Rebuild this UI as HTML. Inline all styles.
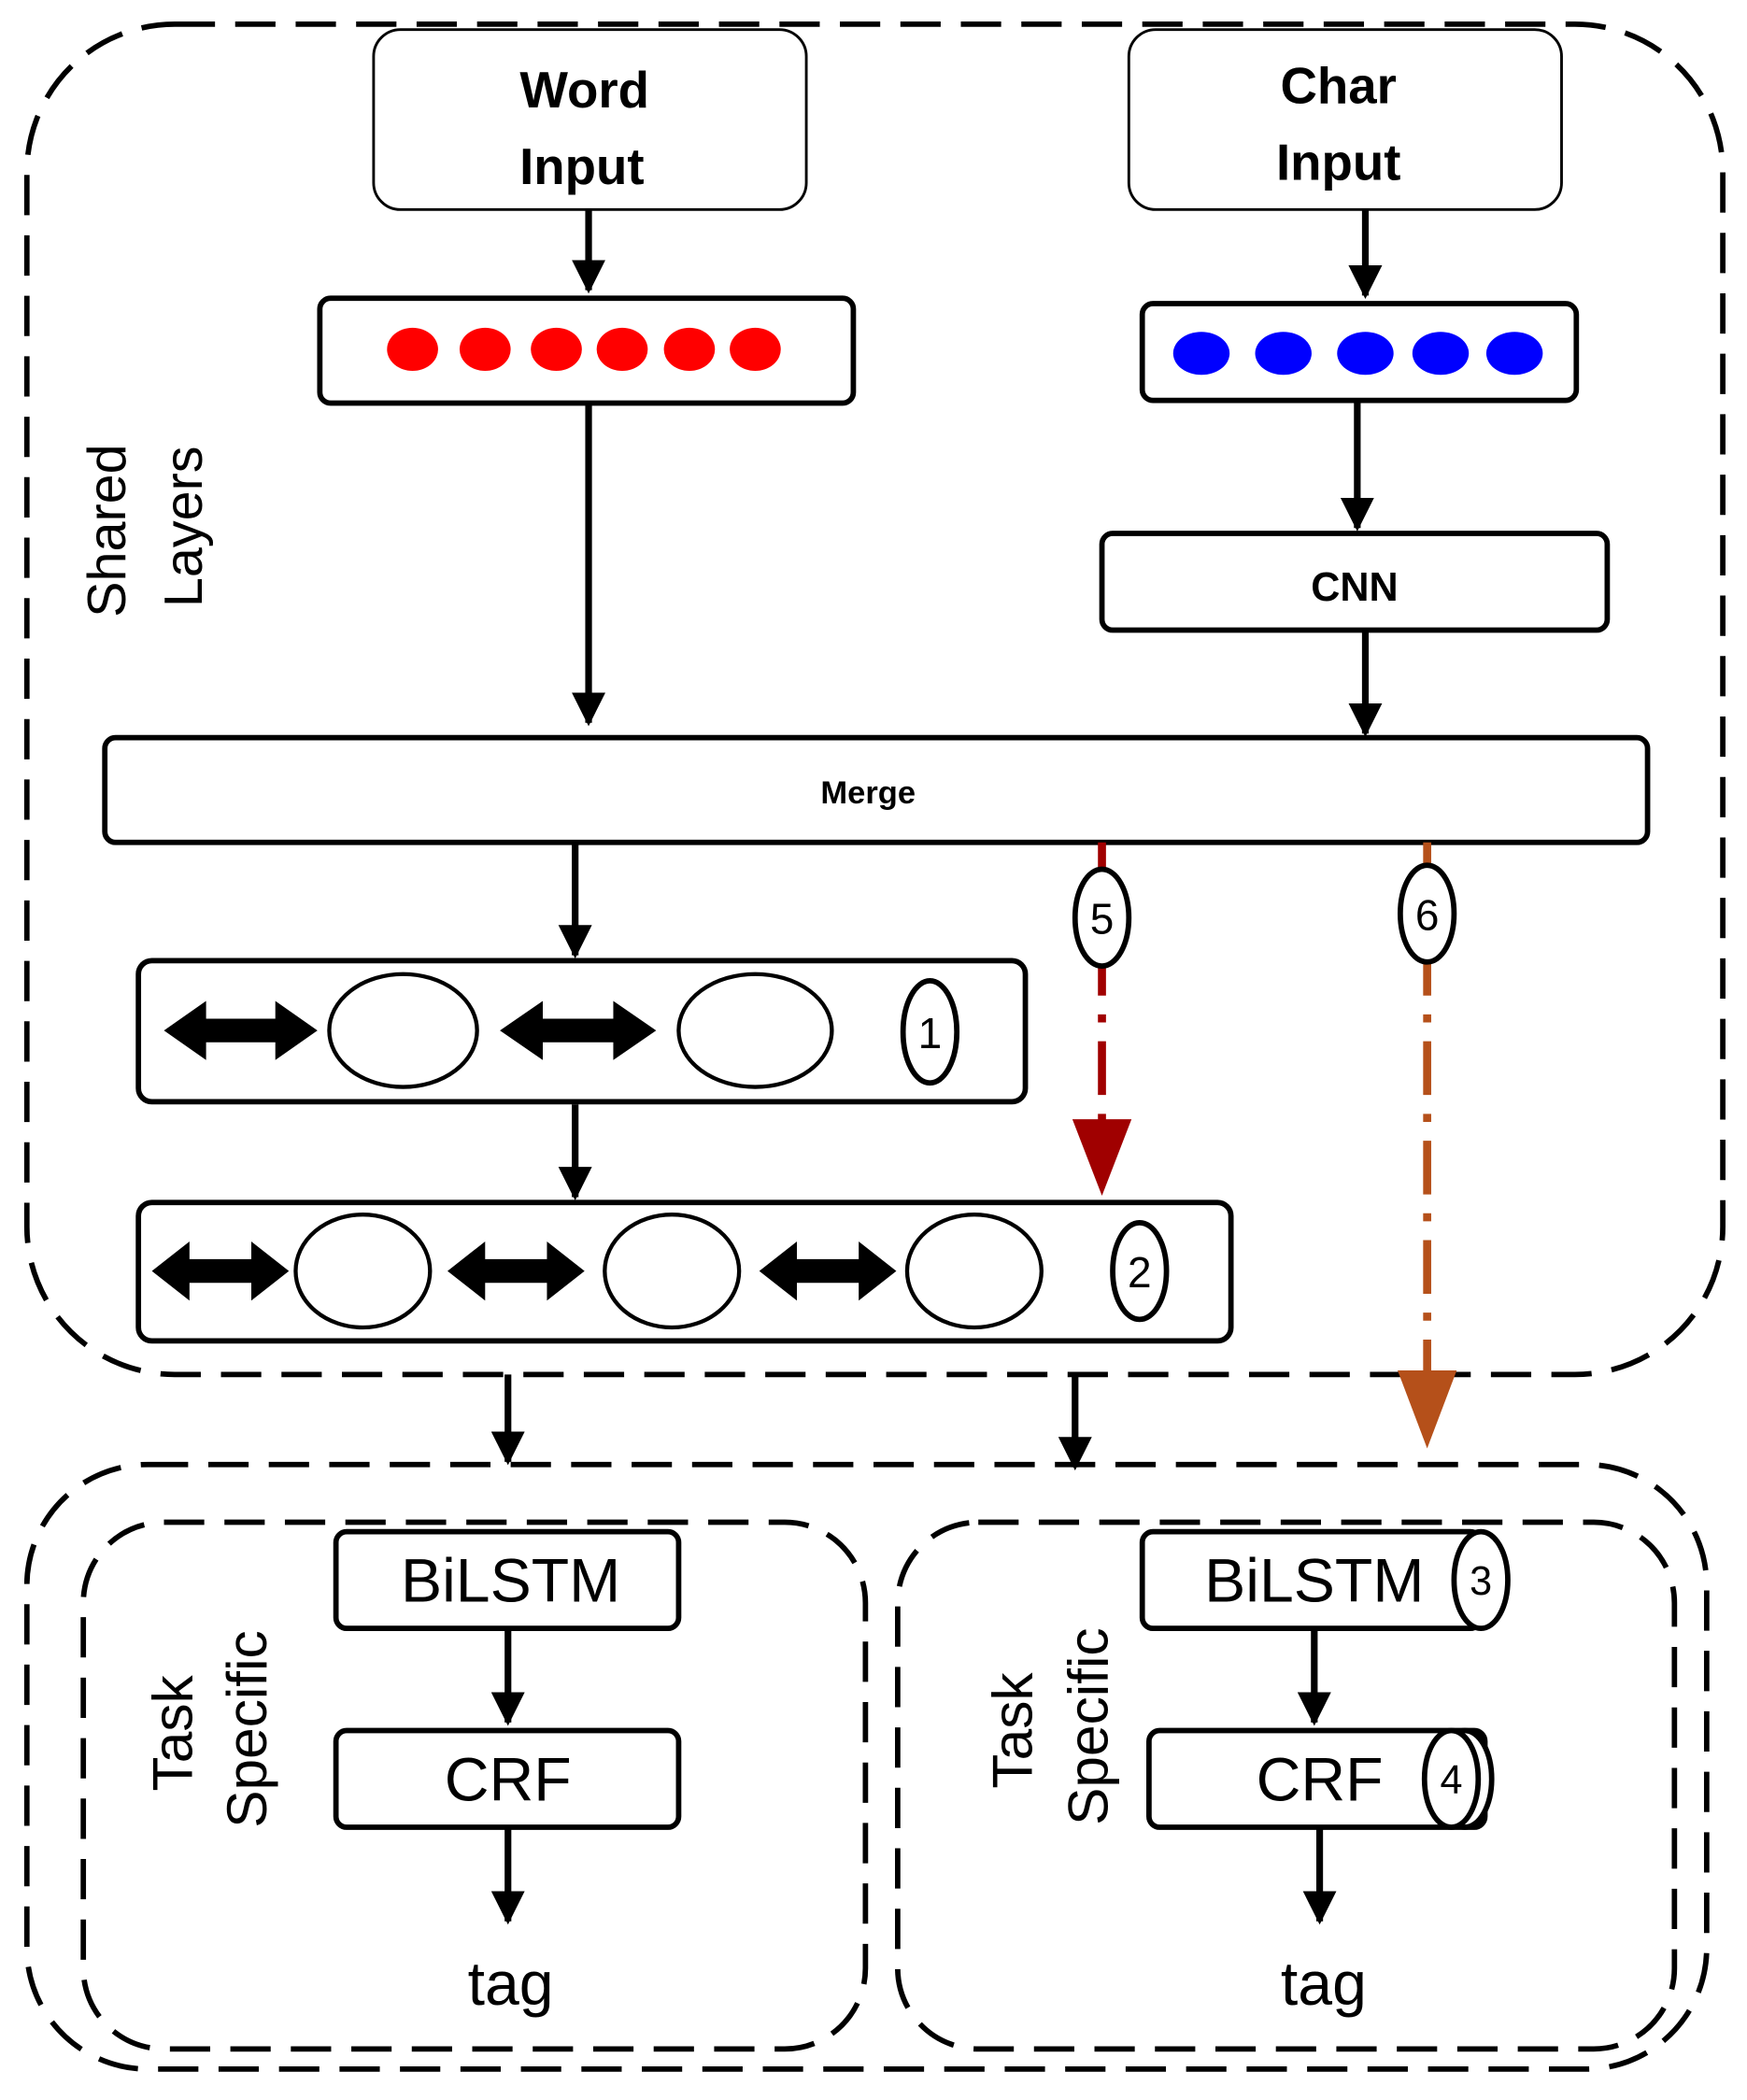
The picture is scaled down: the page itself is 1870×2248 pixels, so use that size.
<!DOCTYPE html>
<html><head><meta charset="utf-8"><style>
html,body{margin:0;padding:0;background:#fff;}
svg{display:block;}
text{font-family:"Liberation Sans",sans-serif;}
</style></head><body>
<svg width="1870" height="2248" viewBox="0 0 1300 1563" preserveAspectRatio="none" xmlns="http://www.w3.org/2000/svg">
<defs>
<marker id="a" viewBox="0 0 10 10" refX="9" refY="5" markerWidth="5" markerHeight="5" orient="auto"><path d="M0,0L10,5L0,10z" fill="#000"/></marker>
<g id="dbl"><path d="M0,0 l28,-20 v12 h46 v-12 l28,20 l-28,20 v-12 h-46 v12z" fill="#000"/></g>
</defs>
<!-- outer top dashed -->
<rect x="20" y="18" width="1262" height="1005" rx="110" fill="none" stroke="#000" stroke-width="4" stroke-dasharray="30,15"/>
<!-- inputs -->
<rect x="278" y="22" width="322" height="134" rx="20" fill="#fff" stroke="#000" stroke-width="2"/>
<text x="435" y="80" font-size="38" font-weight="bold" text-anchor="middle">Word</text>
<text x="433" y="137" font-size="38" font-weight="bold" text-anchor="middle">Input</text>
<rect x="840" y="22" width="322" height="134" rx="20" fill="#fff" stroke="#000" stroke-width="2"/>
<text x="996" y="77" font-size="38" font-weight="bold" text-anchor="middle">Char</text>
<text x="996" y="134" font-size="38" font-weight="bold" text-anchor="middle">Input</text>
<g stroke="#000" stroke-width="5" fill="none" marker-end="url(#a)">
<line x1="438" y1="156" x2="438" y2="216"/>
<line x1="1016" y1="156" x2="1016" y2="220"/>
<line x1="438" y1="300" x2="438" y2="538"/>
<line x1="1010" y1="298" x2="1010" y2="393"/>
<line x1="1016" y1="469" x2="1016" y2="546"/>
<line x1="428" y1="627" x2="428" y2="711"/>
<line x1="428" y1="822" x2="428" y2="891"/>
<line x1="378" y1="1023" x2="378" y2="1088"/>
<line x1="800" y1="1023" x2="800" y2="1092"/>
<line x1="378" y1="1212" x2="378" y2="1282"/>
<line x1="378" y1="1360" x2="378" y2="1430"/>
<line x1="978" y1="1212" x2="978" y2="1282"/>
<line x1="982" y1="1360" x2="982" y2="1430"/>
</g>
<rect x="238" y="222" width="397" height="78" rx="8" fill="#fff" stroke="#000" stroke-width="4"/>
<g fill="#f00"><ellipse cx="307" cy="260" rx="19" ry="16"/><ellipse cx="361" cy="260" rx="19" ry="16"/><ellipse cx="414" cy="260" rx="19" ry="16"/><ellipse cx="463" cy="260" rx="19" ry="16"/><ellipse cx="513" cy="260" rx="19" ry="16"/><ellipse cx="562" cy="260" rx="19" ry="16"/></g>
<rect x="850" y="226" width="323" height="72" rx="8" fill="#fff" stroke="#000" stroke-width="4"/>
<g fill="#00f"><ellipse cx="894" cy="263" rx="21" ry="16"/><ellipse cx="955" cy="263" rx="21" ry="16"/><ellipse cx="1016" cy="263" rx="21" ry="16"/><ellipse cx="1072" cy="263" rx="21" ry="16"/><ellipse cx="1127" cy="263" rx="21" ry="16"/></g>
<rect x="820" y="397" width="376" height="72" rx="8" fill="#fff" stroke="#000" stroke-width="4"/>
<text x="1008" y="447" font-size="30" font-weight="bold" text-anchor="middle">CNN</text>
<rect x="78" y="549" width="1148" height="78" rx="8" fill="#fff" stroke="#000" stroke-width="4"/>
<text x="646" y="598" font-size="24" font-weight="bold" text-anchor="middle">Merge</text>
<!-- shared layers label -->
<text transform="translate(93,395) rotate(-90)" font-size="40" text-anchor="middle">Shared</text>
<text transform="translate(150,392) rotate(-90)" font-size="40" text-anchor="middle">Layers</text>
<!-- box1 -->
<rect x="103" y="715" width="660" height="105" rx="10" fill="#fff" stroke="#000" stroke-width="4"/>
<use href="#dbl" transform="translate(122,767) scale(1.12,1.1)"/>
<ellipse cx="300" cy="767" rx="55" ry="42" fill="none" stroke="#000" stroke-width="3"/>
<use href="#dbl" transform="translate(372,767) scale(1.14,1.1)"/>
<ellipse cx="562" cy="767" rx="57" ry="42" fill="none" stroke="#000" stroke-width="3"/>
<ellipse cx="692" cy="768" rx="20" ry="38" fill="#fff" stroke="#000" stroke-width="4"/>
<text x="692" y="780" font-size="32" text-anchor="middle">1</text>
<!-- box2 -->
<rect x="103" y="895" width="813" height="103" rx="10" fill="#fff" stroke="#000" stroke-width="4"/>
<use href="#dbl" transform="translate(113,946) scale(1,1.1)"/>
<ellipse cx="270" cy="946" rx="50" ry="42" fill="none" stroke="#000" stroke-width="3"/>
<use href="#dbl" transform="translate(333,946) scale(1,1.1)"/>
<ellipse cx="500" cy="946" rx="50" ry="42" fill="none" stroke="#000" stroke-width="3"/>
<use href="#dbl" transform="translate(565,946) scale(1,1.1)"/>
<ellipse cx="725" cy="946" rx="50" ry="42" fill="none" stroke="#000" stroke-width="3"/>
<ellipse cx="848" cy="946" rx="20" ry="36" fill="#fff" stroke="#000" stroke-width="4"/>
<text x="848" y="958" font-size="32" text-anchor="middle">2</text>
<!-- dash dot lines -->
<line x1="820" y1="627" x2="820" y2="835" stroke="#a00000" stroke-width="6" stroke-dasharray="40,14,6,14"/>
<ellipse cx="820" cy="683" rx="20" ry="36" fill="#fff" stroke="#000" stroke-width="4"/>
<text x="820" y="695" font-size="32" text-anchor="middle">5</text>
<path d="M798,833 L842,833 L820,890z" fill="#a00000"/>
<line x1="1062" y1="627" x2="1062" y2="1022" stroke="#b5501a" stroke-width="6" stroke-dasharray="40,14,6,14"/>
<ellipse cx="1062" cy="680" rx="20" ry="36" fill="#fff" stroke="#000" stroke-width="4"/>
<text x="1062" y="692" font-size="32" text-anchor="middle">6</text>
<path d="M1040,1020 L1084,1020 L1062,1078z" fill="#b5501a"/>
<!-- bottom -->
<rect x="20" y="1090" width="1250" height="450" rx="90" fill="none" stroke="#000" stroke-width="4" stroke-dasharray="30,15"/>
<rect x="62" y="1133" width="582" height="392" rx="60" fill="none" stroke="#000" stroke-width="4" stroke-dasharray="30,15"/>
<rect x="668" y="1133" width="578" height="392" rx="60" fill="none" stroke="#000" stroke-width="4" stroke-dasharray="30,15"/>
<text transform="translate(143,1290) rotate(-90)" font-size="42" text-anchor="middle">Task</text>
<text transform="translate(198,1287) rotate(-90)" font-size="42" text-anchor="middle">Specific</text>
<text transform="translate(768,1288) rotate(-90)" font-size="42" text-anchor="middle">Task</text>
<text transform="translate(824,1285) rotate(-90)" font-size="42" text-anchor="middle">Specific</text>
<rect x="250" y="1140" width="255" height="72" rx="8" fill="#fff" stroke="#000" stroke-width="4"/>
<text x="380" y="1192" font-size="46" text-anchor="middle">BiLSTM</text>
<rect x="250" y="1288" width="255" height="72" rx="8" fill="#fff" stroke="#000" stroke-width="4"/>
<text x="378" y="1340" font-size="46" text-anchor="middle">CRF</text>
<text x="380" y="1492" font-size="46" text-anchor="middle">tag</text>
<rect x="850" y="1140" width="252" height="72" rx="8" fill="#fff" stroke="#000" stroke-width="4"/>
<ellipse cx="1102" cy="1176" rx="20" ry="36" fill="#fff" stroke="#000" stroke-width="4"/>
<text x="978" y="1192" font-size="46" text-anchor="middle">BiLSTM</text>
<text x="1102" y="1187" font-size="30" text-anchor="middle">3</text>
<rect x="855" y="1288" width="250" height="72" rx="8" fill="#fff" stroke="#000" stroke-width="4"/>
<ellipse cx="1090" cy="1324" rx="20" ry="36" fill="#fff" stroke="#000" stroke-width="4"/>
<ellipse cx="1080" cy="1324" rx="20" ry="36" fill="#fff" stroke="#000" stroke-width="4"/>
<text x="982" y="1340" font-size="46" text-anchor="middle">CRF</text>
<text x="1080" y="1335" font-size="30" text-anchor="middle">4</text>
<text x="985" y="1492" font-size="46" text-anchor="middle">tag</text>
</svg>
</body></html>
